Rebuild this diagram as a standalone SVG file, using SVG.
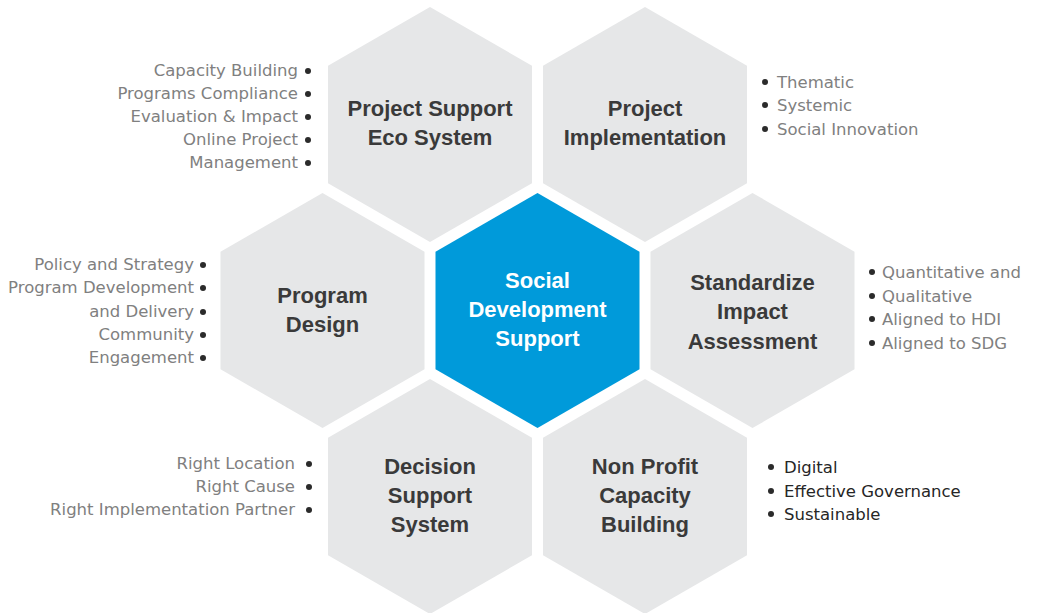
<svg xmlns="http://www.w3.org/2000/svg" xmlns:xlink="http://www.w3.org/1999/xlink" width="1037" height="613" viewBox="0 0 1037 613">
<style>
.hex{fill:#E6E7E8}
.hexc{fill:#009ADA}
.t{font-family:"Liberation Sans",Arial,sans-serif;font-weight:bold;font-size:22px;fill:#3A3A3A;text-anchor:middle}
.tc{fill:#FFFFFF}
.b{font-family:"DejaVu Sans","Liberation Sans",sans-serif;font-size:16.5px;fill:#808080}
.bd{fill:#262626}
.r{text-anchor:end}
.dot{fill:#2B2B2B}
</style>
<defs>
<polygon id="hx" points="0,-117.5 102,-58.75 102,58.75 0,117.5 -102,58.75 -102,-58.75"/>
</defs>
<rect width="1037" height="613" fill="#FFFFFF"/>

<g id="node-center">
<use xlink:href="#hx" class="hexc" transform="translate(537.5,310.5)"/>
<text class="t tc" x="537.5" y="288">Social</text>
<text class="t tc" x="537.5" y="317">Development</text>
<text class="t tc" x="537.5" y="346">Support</text>
</g>

<g id="node-project-support">
<use xlink:href="#hx" class="hex" transform="translate(430,124.5)"/>
<text class="t" x="430" y="116">Project Support</text>
<text class="t" x="430" y="145">Eco System</text>
<g id="list-project-support">
<text class="b r" x="298" y="76">Capacity Building</text>
<text class="b r" x="298" y="99">Programs Compliance</text>
<text class="b r" x="298" y="122">Evaluation &amp; Impact</text>
<text class="b r" x="298" y="145">Online Project</text>
<text class="b r" x="298" y="168">Management</text>
<circle class="dot" cx="308" cy="71" r="3"/>
<circle class="dot" cx="308" cy="94" r="3"/>
<circle class="dot" cx="308" cy="117" r="3"/>
<circle class="dot" cx="308" cy="140" r="3"/>
<circle class="dot" cx="308" cy="163" r="3"/>
</g>
</g>

<g id="node-project-implementation">
<use xlink:href="#hx" class="hex" transform="translate(645,124.5)"/>
<text class="t" x="645" y="116">Project</text>
<text class="t" x="645" y="145">Implementation</text>
<g id="list-project-implementation">
<circle class="dot" cx="765" cy="82" r="3"/>
<circle class="dot" cx="765" cy="105" r="3"/>
<circle class="dot" cx="765" cy="129" r="3"/>
<text class="b" x="777" y="88">Thematic</text>
<text class="b" x="777" y="111">Systemic</text>
<text class="b" x="777" y="135">Social Innovation</text>
</g>
</g>

<g id="node-program-design">
<use xlink:href="#hx" class="hex" transform="translate(322.5,310.5)"/>
<text class="t" x="322.5" y="303">Program</text>
<text class="t" x="322.5" y="332">Design</text>
<g id="list-program-design">
<text class="b r" x="194" y="270">Policy and Strategy</text>
<text class="b r" x="194" y="293">Program Development</text>
<text class="b r" x="194" y="317">and Delivery</text>
<text class="b r" x="194" y="340">Community</text>
<text class="b r" x="194" y="363">Engagement</text>
<circle class="dot" cx="203" cy="265" r="3"/>
<circle class="dot" cx="203" cy="288" r="3"/>
<circle class="dot" cx="203" cy="312" r="3"/>
<circle class="dot" cx="203" cy="335" r="3"/>
<circle class="dot" cx="203" cy="358" r="3"/>
</g>
</g>

<g id="node-impact-assessment">
<use xlink:href="#hx" class="hex" transform="translate(752.5,310.5)"/>
<text class="t" x="752.5" y="290">Standardize</text>
<text class="t" x="752.5" y="319">Impact</text>
<text class="t" x="752.5" y="349">Assessment</text>
<g id="list-impact-assessment">
<circle class="dot" cx="872" cy="272" r="3"/>
<circle class="dot" cx="872" cy="296" r="3"/>
<circle class="dot" cx="872" cy="319" r="3"/>
<circle class="dot" cx="872" cy="343" r="3"/>
<text class="b" x="882" y="278">Quantitative and</text>
<text class="b" x="882" y="302">Qualitative</text>
<text class="b" x="882" y="325">Aligned to HDI</text>
<text class="b" x="882" y="349">Aligned to SDG</text>
</g>
</g>

<g id="node-decision-support">
<use xlink:href="#hx" class="hex" transform="translate(430,496.5)"/>
<text class="t" x="430" y="474">Decision</text>
<text class="t" x="430" y="503">Support</text>
<text class="t" x="430" y="532">System</text>
<g id="list-decision-support">
<text class="b r" x="295" y="469">Right Location</text>
<text class="b r" x="295" y="492">Right Cause</text>
<text class="b r" x="295" y="515">Right Implementation Partner</text>
<circle class="dot" cx="309" cy="464" r="3"/>
<circle class="dot" cx="309" cy="487" r="3"/>
<circle class="dot" cx="309" cy="510" r="3"/>
</g>
</g>

<g id="node-nonprofit">
<use xlink:href="#hx" class="hex" transform="translate(645,496.5)"/>
<text class="t" x="645" y="474">Non Profit</text>
<text class="t" x="645" y="503">Capacity</text>
<text class="t" x="645" y="532">Building</text>
<g id="list-nonprofit">
<circle class="dot" cx="771" cy="467" r="3"/>
<circle class="dot" cx="771" cy="491" r="3"/>
<circle class="dot" cx="771" cy="514" r="3"/>
<text class="b bd" x="784" y="473">Digital</text>
<text class="b bd" x="784" y="497">Effective Governance</text>
<text class="b bd" x="784" y="520">Sustainable</text>
</g>
</g>
</svg>
